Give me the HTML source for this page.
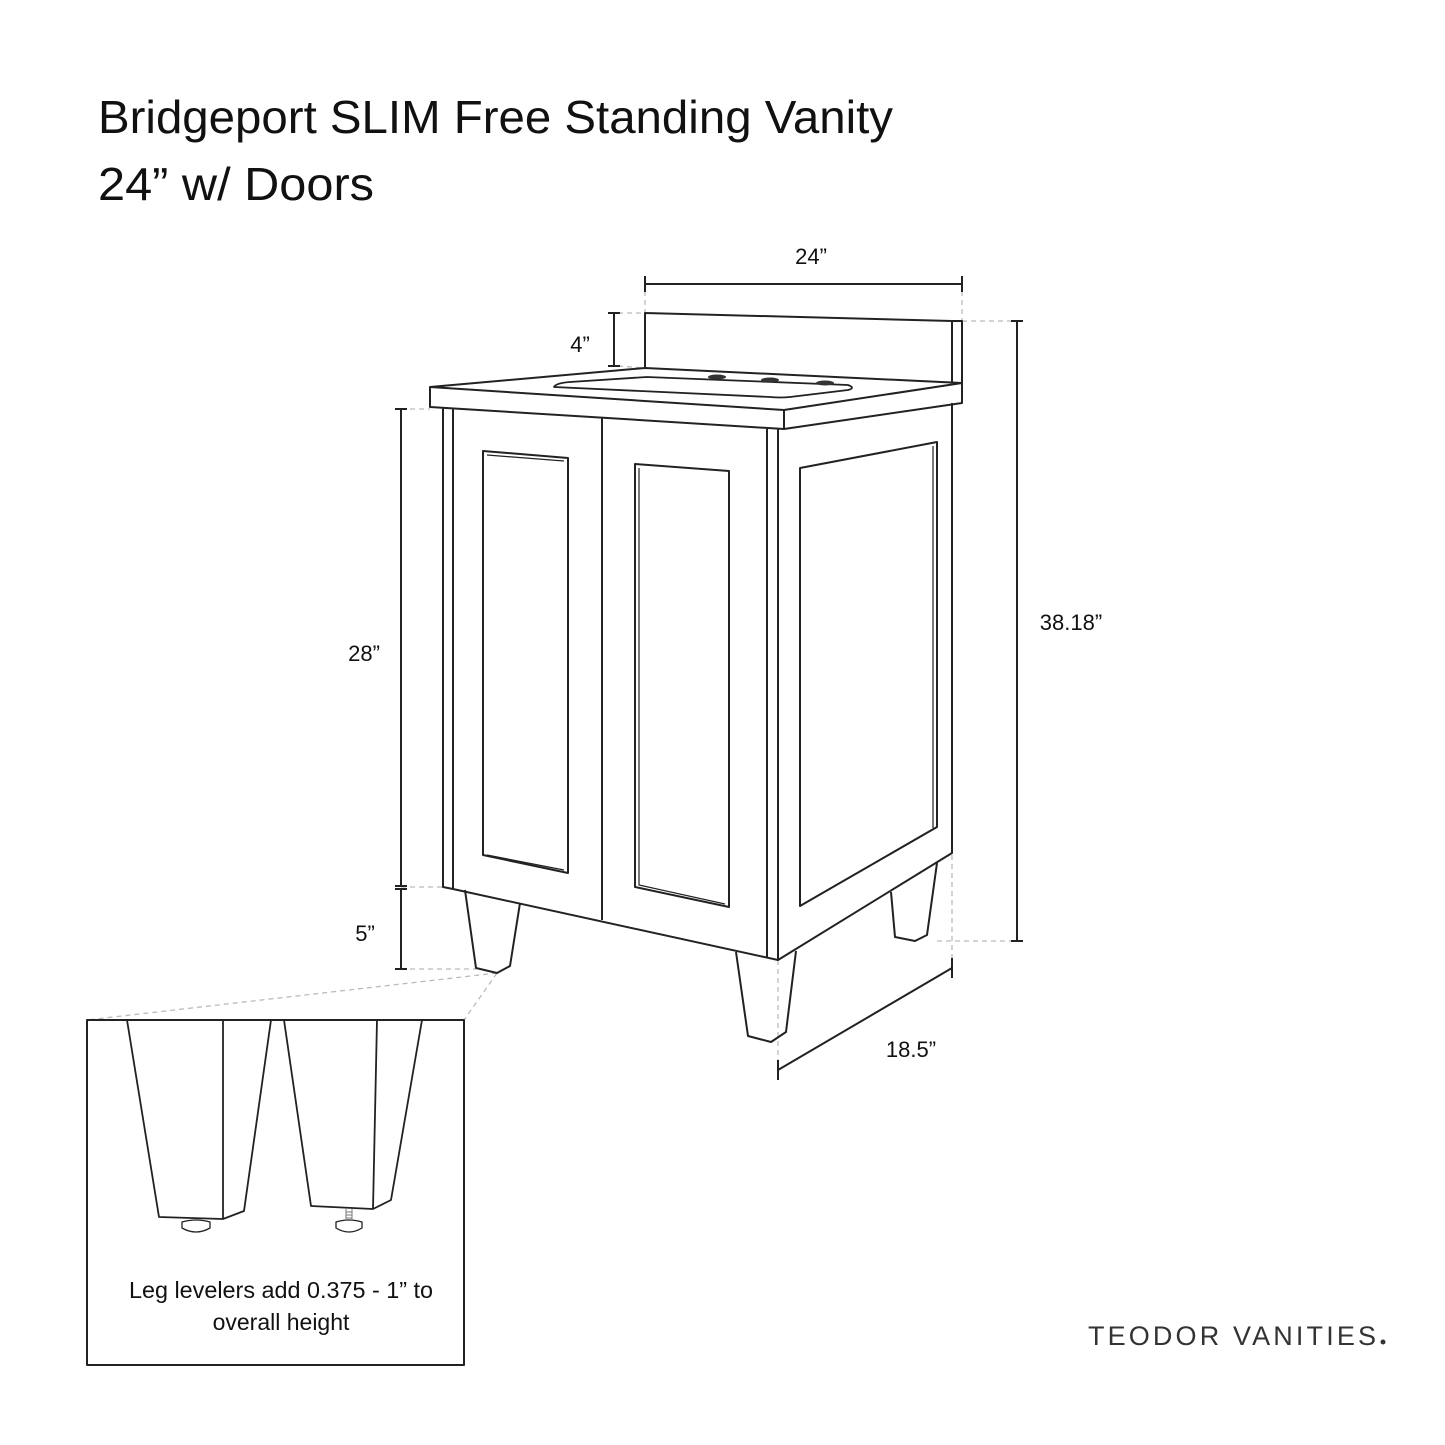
<!DOCTYPE html>
<html><head><meta charset="utf-8"><style>
html,body{margin:0;padding:0;background:#fff;}
svg{display:block;}
text{font-family:"Liberation Sans",sans-serif;fill:#111;}
</style></head><body>
<svg width="1445" height="1445" viewBox="0 0 1445 1445" xmlns="http://www.w3.org/2000/svg">
<rect width="1445" height="1445" fill="#fff"/>
<text x="98" y="133" font-size="46" textLength="795" lengthAdjust="spacingAndGlyphs">Bridgeport SLIM Free Standing Vanity</text>
<text x="98" y="200" font-size="46" textLength="276" lengthAdjust="spacingAndGlyphs">24” w/ Doors</text>

<g fill="none" stroke="#bbb" stroke-width="1.3" stroke-dasharray="5,4">
<line x1="645" y1="291" x2="645" y2="313"/>
<line x1="962" y1="291" x2="962" y2="321"/>
<line x1="618" y1="313" x2="645" y2="313"/>
<line x1="618" y1="366" x2="645" y2="368"/>
<line x1="962" y1="321" x2="1017" y2="321"/>
<line x1="937" y1="941" x2="1017" y2="941"/>
<line x1="401" y1="409" x2="430" y2="409"/>
<line x1="401" y1="887" x2="443" y2="887"/>
<line x1="401" y1="969" x2="476" y2="969"/>
<line x1="497" y1="973" x2="87" y2="1020"/>
<line x1="497" y1="973" x2="464" y2="1020"/>
<line x1="778" y1="960" x2="778" y2="1070"/>
<line x1="952" y1="855" x2="952" y2="960"/>
</g>

<g fill="none" stroke="#222" stroke-width="2" stroke-linejoin="round">
<line x1="645" y1="284" x2="962" y2="284"/>
<line x1="645" y1="276" x2="645" y2="292"/><line x1="962" y1="276" x2="962" y2="292"/>
<line x1="614" y1="313" x2="614" y2="366"/>
<line x1="608" y1="313" x2="620" y2="313"/><line x1="608" y1="366" x2="620" y2="366"/>
<line x1="401" y1="409" x2="401" y2="886"/>
<line x1="395" y1="409" x2="407" y2="409"/><line x1="395" y1="886" x2="407" y2="886"/>
<line x1="401" y1="889" x2="401" y2="969"/>
<line x1="395" y1="889" x2="407" y2="889"/><line x1="395" y1="969" x2="407" y2="969"/>
<line x1="1017" y1="321" x2="1017" y2="941"/>
<line x1="1011" y1="321" x2="1023" y2="321"/><line x1="1011" y1="941" x2="1023" y2="941"/>
<line x1="778" y1="1070" x2="952" y2="968"/>
<line x1="778" y1="1060" x2="778" y2="1080"/><line x1="952" y1="958" x2="952" y2="978"/>

<path d="M645 368 L645 313 L952 321 L962 321 L962 383 M952 321 L952 383"/>
<path d="M430 387 L645 368 L962 383 L784 410 Z" fill="#fff"/>
<path d="M430 387 L430 407 L784 429 L962 403 L962 383 M784 410 L784 429"/>
<path d="M554 387 Q556 383 570 382 L647 377 L848 385 Q856 388 848 390 L790 397 Q781 398 770 397 Z" stroke-width="1.8"/>
<g fill="#333" stroke="none">
<ellipse cx="717" cy="377" rx="9" ry="2.5"/><ellipse cx="770" cy="380" rx="9" ry="2.5"/><ellipse cx="825" cy="383" rx="9" ry="2.5"/>
</g>
<path d="M443 407 L443 887 L453 889 M453 408 L453 889 L778 960 L952 853 L952 403"/>
<path d="M767 429 L767 958 M778 429 L778 960"/>
<path d="M602 417 L602 920"/>
<path d="M483 451 L568 458 L568 873 L483 855 Z"/>
<path d="M487 455 L564 461 M487 855 L564 870" stroke-width="1.2"/>
<path d="M635 464 L729 471 L729 907 L635 887 Z"/>
<path d="M639 468 L639 885 L725 904" stroke-width="1.2"/>
<path d="M800 468 L937 442 L937 827 L800 906 Z"/>
<path d="M803 904 L933 829 M933 446 L933 828" stroke-width="1.2"/>
<path d="M465 890 L476 968 L497 973 L510 966 L520 903"/>
<path d="M736 952 L748 1036 L771 1042 L786 1032 L796 951"/>
<path d="M891 892 L895 937 L915 941 L927 935 L937 863"/>

<rect x="87" y="1020" width="377" height="345" stroke-width="2"/>
<path d="M127 1020 L159 1217 L223 1219 L244 1211 L271 1020 M223 1020 L223 1219" stroke-width="1.8"/>
<path d="M284 1020 L311 1206 L373 1209 L391 1200 L422 1020 M377 1020 L373 1209" stroke-width="1.8"/>
<path d="M182 1222 Q196 1218 210 1222 L210 1228 Q196 1236 182 1228 Z" stroke-width="1.3"/>
<path d="M336 1222 Q349 1218 362 1222 L362 1228 Q349 1236 336 1228 Z" stroke-width="1.3"/>
<path d="M346 1209 L346 1221 M352 1209 L352 1221 M346 1212 L352 1212 M346 1215 L352 1215 M346 1218 L352 1218" stroke-width="1" stroke="#777"/>
</g>

<text x="811" y="264" font-size="22" text-anchor="middle">24”</text>
<text x="580" y="352" font-size="22" text-anchor="middle">4”</text>
<text x="364" y="661" font-size="22" text-anchor="middle">28”</text>
<text x="365" y="941" font-size="22" text-anchor="middle">5”</text>
<text x="1071" y="630" font-size="22" text-anchor="middle">38.18”</text>
<text x="911" y="1057" font-size="22" text-anchor="middle">18.5”</text>
<text x="281" y="1298" font-size="23" text-anchor="middle" textLength="304" lengthAdjust="spacingAndGlyphs">Leg levelers add 0.375 - 1” to</text>
<text x="281" y="1330" font-size="23" text-anchor="middle">overall height</text>
<text x="1088" y="1345" font-size="27" textLength="288" lengthAdjust="spacing" style="fill:#333">TEODOR VANITIES</text>
<circle cx="1383" cy="1342" r="2.5" fill="#333"/>
</svg>
</body></html>
